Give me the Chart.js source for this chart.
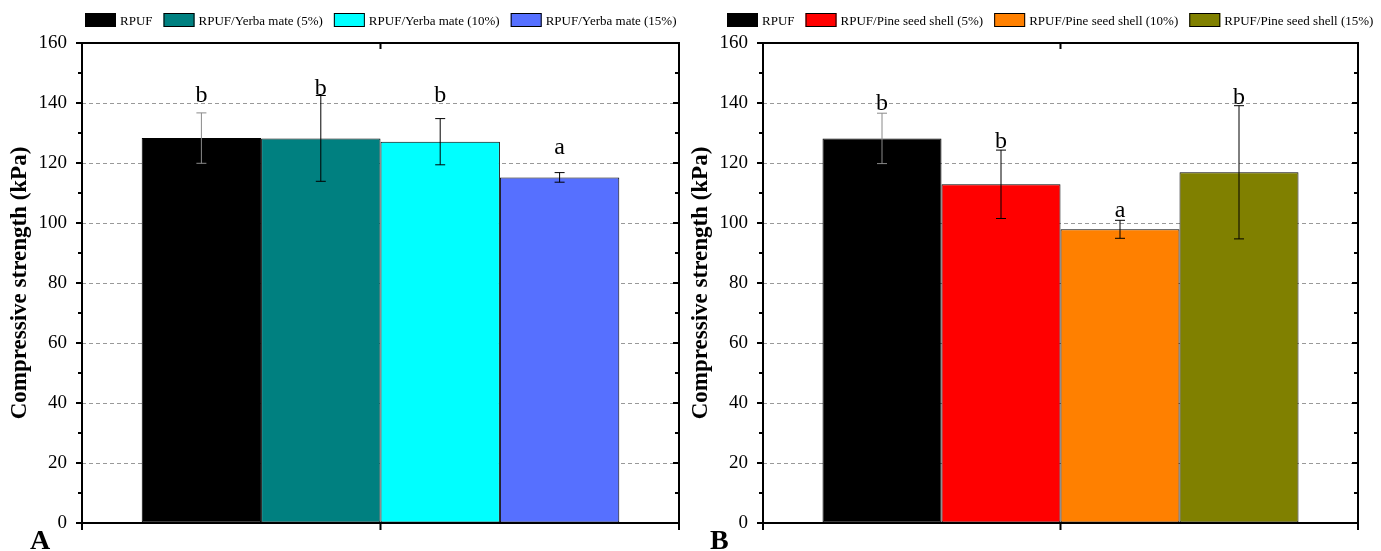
<!DOCTYPE html>
<html>
<head>
<meta charset="utf-8">
<script src="https://cdn.jsdelivr.net/npm/chart.js@4.4.1/dist/chart.umd.min.js"></script>
<style>
  html, body { margin:0; padding:0; background:#fff; overflow:hidden; }
  .panel { position:absolute; top:0; height:551px; }
  canvas { display:block; }
</style>
</head>
<body>
<div class="panel" style="left:0;width:690px"><canvas id="chartA" width="690" height="551"></canvas></div>
<div class="panel" style="left:690px;width:691px"><canvas id="chartB" width="691" height="551"></canvas></div>
<script>
// ── data ────────────────────────────────────────────────────────────────────
const yTicks = [0, 20, 40, 60, 80, 100, 120, 140, 160];

const seriesA   = ['RPUF', 'RPUF/Yerba mate (5%)', 'RPUF/Yerba mate (10%)', 'RPUF/Yerba mate (15%)'];
const valuesA   = [128.3, 128.2, 127.1, 115.2];
const errorsA   = [8.4, 14.3, 7.7, 1.6];
const lettersA  = ['b', 'b', 'b', 'a'];
const letterAtA = [140.4, 142.7, 140.4, 123.0];   // value where each letter sits
const colorsA   = ['#000000', '#008080', '#00FFFF', '#5670FF'];

const seriesB   = ['RPUF', 'RPUF/Pine seed shell (5%)', 'RPUF/Pine seed shell (10%)', 'RPUF/Pine seed shell (15%)'];
const valuesB   = [128.2, 112.9, 97.9, 116.9];
const errorsB   = [8.4, 11.4, 3.0, 22.2];
const lettersB  = ['b', 'b', 'a', 'b'];
const letterAtB = [137.7, 125.0, 102.1, 139.7];
const colorsB   = ['#000000', '#FF0000', '#FF8000', '#808000'];

const SERIF = '"Liberation Serif", "Times New Roman", serif';

// ── plugin: error bars, letters, box frame with ticks, legend, panel tag ────
const decor = {
  id: 'decor',
  afterDatasetsDraw(chart, args, opts) {
    const { ctx } = chart;
    const y = chart.scales.y;
    ctx.save();
    chart.data.datasets.forEach((ds, i) => {
      const bar = chart.getDatasetMeta(i).data[0];
      const v = ds.data[0], e = opts.errors[i];
      const yt = y.getPixelForValue(v + e), yb = y.getPixelForValue(v - e);
      ctx.strokeStyle = i === 0 ? '#8a8a8a' : '#000';
      ctx.lineWidth = 1;
      ctx.beginPath();
      ctx.moveTo(bar.x, yt); ctx.lineTo(bar.x, yb);
      ctx.moveTo(bar.x - 5, yt); ctx.lineTo(bar.x + 5, yt);
      ctx.moveTo(bar.x - 5, yb); ctx.lineTo(bar.x + 5, yb);
      ctx.stroke();
      ctx.fillStyle = '#000';
      ctx.font = '24px ' + SERIF;
      ctx.textAlign = 'center';
      ctx.textBaseline = 'alphabetic';
      ctx.fillText(opts.letters[i], bar.x, y.getPixelForValue(opts.letterAt[i]));
    });
    ctx.restore();
  },
  afterDraw(chart, args, opts) {
    const { ctx, chartArea: a } = chart;
    const y = chart.scales.y;
    const cx = (a.left + a.right) / 2;
    ctx.save();
    ctx.strokeStyle = '#000';
    ctx.lineWidth = 2;
    ctx.strokeRect(a.left, a.top, a.right - a.left, a.bottom - a.top);
    ctx.beginPath();
    for (let v = 0; v <= 160; v += 10) {
      const py = Math.round(y.getPixelForValue(v));
      const len = v % 20 === 0 ? 6 : 4;
      ctx.moveTo(a.left - len, py); ctx.lineTo(a.left, py);
      ctx.moveTo(a.right - len, py); ctx.lineTo(a.right, py);
    }
    [a.left, cx, a.right].forEach(px => { ctx.moveTo(px, a.bottom); ctx.lineTo(px, a.bottom + 7); });
    ctx.moveTo(cx, a.top); ctx.lineTo(cx, a.top + 6);
    ctx.stroke();

    // legend row
    ctx.font = '13px ' + SERIF;
    ctx.textAlign = 'left';
    ctx.textBaseline = 'alphabetic';
    let x = opts.legendX;
    chart.data.datasets.forEach(ds => {
      ctx.fillStyle = ds.backgroundColor;
      ctx.fillRect(x, 13, 31, 14);
      ctx.lineWidth = 1;
      ctx.strokeStyle = '#000';
      ctx.strokeRect(x + 0.5, 13.5, 30, 13);
      x += 31 + 4;
      ctx.fillStyle = '#000';
      ctx.fillText(ds.label, x, 25);
      x += ctx.measureText(ds.label).width + 11;
    });

    ctx.font = 'bold 28px ' + SERIF;
    ctx.fillText(opts.tag, opts.tagX, 549);
    ctx.restore();
  }
};

function makeChart(id, series, values, errors, letters, letterAt, colors, tag, pad, axisWidth, tagX, legendX) {
  return new Chart(document.getElementById(id), {
    type: 'bar',
    data: {
      labels: [''],
      datasets: series.map((s, i) => ({
        label: s, data: [values[i]],
        backgroundColor: colors[i], borderColor: '#000', borderWidth: 1
      }))
    },
    options: {
      responsive: false, animation: false,
      layout: { padding: pad },
      datasets: { bar: { categoryPercentage: 0.8, barPercentage: 1.0 } },
      plugins: {
        legend: { display: false },
        tooltip: { enabled: false },
        decor: { errors, letters, letterAt, tag, tagX, legendX }
      },
      scales: {
        x: {
          grid: { display: false }, border: { display: false },
          ticks: { display: false },
          afterFit: s => { s.height = 28; }
        },
        y: {
          min: 0, max: 160,
          afterFit: s => { s.width = axisWidth; },
          border: { display: false, dash: [4, 3] },
          grid: {
            drawTicks: false,
            color: c => (c.tick && c.tick.value % 20 === 0 && c.tick.value > 0 && c.tick.value < 160) ? '#999999' : 'transparent',
            lineWidth: 1
          },
          ticks: {
            stepSize: 10, autoSkip: false, padding: 15, color: '#000',
            font: { family: SERIF, size: 19 },
            callback: v => yTicks.includes(v) ? v : ''
          },
          title: {
            display: true, text: 'Compressive strength (kPa)', color: '#000',
            font: { family: SERIF, size: 23, weight: 'bold', lineHeight: 1 }, padding: 0
          }
        }
      }
    },
    plugins: [decor]
  });
}

Chart.defaults.elements.bar.borderSkipped = false;

makeChart('chartA', seriesA, valuesA, errorsA, lettersA, letterAtA, colorsA, 'A',
  { left: 9, right: 11, top: 43, bottom: 0 }, 73, 30, 85);
makeChart('chartB', seriesB, valuesB, errorsB, lettersB, letterAtB, colorsB, 'B',
  { left: 0, right: 23, top: 43, bottom: 0 }, 73, 20, 37);
</script>
</body>
</html>
